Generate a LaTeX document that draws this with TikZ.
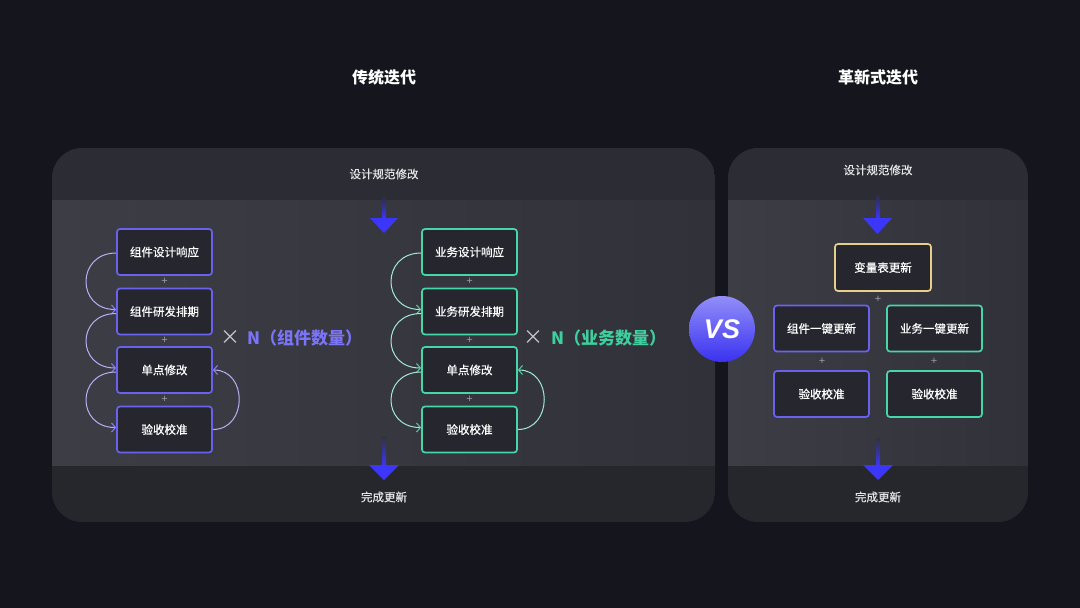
\documentclass[tikz,border=0pt]{standalone}
\usepackage{fontspec}
\setmainfont{Liberation Sans}
\newfontfamily\cjk{Noto Sans CJK SC}
\newfontfamily\cjkm[FakeBold=0.6]{Noto Sans CJK SC}
\newfontfamily\cjkl[FakeBold=0.3]{Noto Sans CJK SC}
\usetikzlibrary{arrows.meta}
\definecolor{bg}{HTML}{15161D}
\definecolor{ptop}{HTML}{2C2D34}
\definecolor{pbot}{HTML}{26272D}
\definecolor{midL}{HTML}{3D3E45}
\definecolor{midR}{HTML}{313239}
\definecolor{boxfill}{HTML}{25262E}
\definecolor{purp}{HTML}{6A62EE}
\definecolor{purpT}{HTML}{7C74F7}
\definecolor{grn}{HTML}{46D6A8}
\definecolor{grnT}{HTML}{3FCF9F}
\definecolor{gold}{HTML}{E6CF8A}
\definecolor{ablue}{HTML}{3B36FA}
\definecolor{plusc}{HTML}{9A9BA2}
\definecolor{xgray}{HTML}{C8C8CC}
\definecolor{txt}{HTML}{E6E6E8}
\definecolor{vsTop}{HTML}{928EF8}
\definecolor{vsBot}{HTML}{3A32F0}
\begin{document}
\begin{tikzpicture}[x=1pt,y=1pt,
  box/.style={draw, line width=1.7pt, rounded corners=3pt, fill=boxfill,
    minimum width=95pt, minimum height=46pt, inner sep=0pt, text=white,
    font=\cjkm\fontsize{11.5}{13}\selectfont},
  pbox/.style={box, draw=purp},
  gbox/.style={box, draw=grn},
  ybox/.style={box, draw=gold},
  plus/.style={text=plusc, font=\fontsize{11}{11}\selectfont, inner sep=0pt},
  lbl/.style={text=txt, font=\cjkl\fontsize{11.5}{13}\selectfont, inner sep=0pt},
  ttl/.style={text=white, font=\cjk\bfseries\fontsize{16}{18}\selectfont, inner sep=0pt},
  ploop/.style={draw=purp!50!white, line width=1pt, -{Straight Barb[length=4pt,width=9pt,color=purp!80!white]}},
  gloop/.style={draw=grn!50!white, line width=1pt, -{Straight Barb[length=4pt,width=9pt,color=grn]}},
  ahead/.style={fill=ablue},
]
\useasboundingbox (0,0) rectangle (1080,-608);
\fill[bg] (0,0) rectangle (1080,-608);

% titles
\node[ttl] (t1) at (384,-77) {传统迭代};
\node[ttl] (t2) at (878,-77) {革新式迭代};

% left panel
\begin{scope}
\clip[rounded corners=30pt] (52,-148) rectangle (715,-522);
\fill[ptop] (52,-148) rectangle (715,-200);
\shade[left color=midL, right color=midR] (52,-200) rectangle (715,-466);
\fill[pbot] (52,-466) rectangle (715,-522);
\end{scope}
% right panel
\begin{scope}
\clip[rounded corners=30pt] (728,-148) rectangle (1028,-522);
\fill[ptop] (728,-148) rectangle (1028,-200);
\shade[left color=midL, right color=midR] (728,-200) rectangle (1028,-466);
\fill[pbot] (728,-466) rectangle (1028,-522);
\end{scope}

% left panel texts
\node[lbl] (ls) at (384,-174) {设计规范修改};
\node[lbl] (le) at (384,-497) {完成更新};
% left blue arrows
\shade[top color=ptop, bottom color=ablue] (382,-195) rectangle (386,-219);
\fill[ahead] (370,-218) -- (398,-218) -- (384,-233) -- cycle;
\shade[top color=midR, bottom color=ablue] (382,-436) rectangle (386,-466);
\fill[ahead] (369,-465) -- (399,-465) -- (384,-480) -- cycle;

% component boxes
\node[pbox] (c1) at (164.5,-252) {组件设计响应};
\node[pbox] (c2) at (164.5,-311.5) {组件研发排期};
\node[pbox] (c3) at (164.5,-370) {单点修改};
\node[pbox] (c4) at (164.5,-429.5) {验收校准};
\node[plus] at (164.5,-281.5) {+};
\node[plus] at (164.5,-340.5) {+};
\node[plus] at (164.5,-399.5) {+};
\draw[ploop] ([yshift=-1pt]c1.west) .. controls +(-40,0) and +(-40,0) .. ([yshift=2pt]c2.west);
\draw[ploop] ([yshift=-2pt]c2.west) .. controls +(-40,0) and +(-40,0) .. ([yshift=2pt]c3.west);
\draw[ploop] ([yshift=-2pt]c3.west) .. controls +(-40,0) and +(-40,0) .. ([yshift=2pt]c4.west);
\draw[ploop] (c4.east) .. controls +(35,0) and +(35,0) .. (c3.east);
\node[text=xgray, font=\cjk\fontsize{20}{20}\selectfont, inner sep=0pt] (x1) at (230.5,-338) {×};
\node[anchor=west, text=purpT, font=\cjk\bfseries\fontsize{17}{19}\selectfont, inner sep=0pt] (n1) at (247,-338) {N（组件数量）};

% business boxes
\node[gbox] (b1) at (469.5,-252) {业务设计响应};
\node[gbox] (b2) at (469.5,-311.5) {业务研发排期};
\node[gbox] (b3) at (469.5,-370) {单点修改};
\node[gbox] (b4) at (469.5,-429.5) {验收校准};
\node[plus] at (469.5,-281.5) {+};
\node[plus] at (469.5,-340.5) {+};
\node[plus] at (469.5,-399.5) {+};
\draw[gloop] ([yshift=-1pt]b1.west) .. controls +(-40,0) and +(-40,0) .. ([yshift=2pt]b2.west);
\draw[gloop] ([yshift=-2pt]b2.west) .. controls +(-40,0) and +(-40,0) .. ([yshift=2pt]b3.west);
\draw[gloop] ([yshift=-2pt]b3.west) .. controls +(-40,0) and +(-40,0) .. ([yshift=2pt]b4.west);
\draw[gloop] (b4.east) .. controls +(35,0) and +(35,0) .. (b3.east);
\node[text=xgray, font=\cjk\fontsize{20}{20}\selectfont, inner sep=0pt] (x2) at (533.5,-338) {×};
\node[anchor=west, text=grnT, font=\cjk\bfseries\fontsize{17}{19}\selectfont, inner sep=0pt] (n2) at (551,-338) {N（业务数量）};

% right panel texts
\node[lbl] (rs) at (878,-170) {设计规范修改};
\node[lbl] (re) at (878,-497) {完成更新};
\shade[top color=ptop, bottom color=ablue] (876,-193) rectangle (880,-219);
\fill[ahead] (863,-218) -- (892,-218) -- (877.5,-234) -- cycle;
\shade[top color=midR, bottom color=ablue] (876,-438) rectangle (880,-466);
\fill[ahead] (863,-465) -- (893,-465) -- (878,-480) -- cycle;

\node[ybox, minimum width=96pt, minimum height=47pt] (v) at (883,-267.5) {变量表更新};
\node[plus] at (878,-299) {+};
\node[pbox] (r1) at (821.5,-328.5) {组件一键更新};
\node[gbox] (r2) at (934.5,-328.5) {业务一键更新};
\node[plus] at (822,-361) {+};
\node[plus] at (934,-361) {+};
\node[pbox] (r3) at (821.5,-394) {验收校准};
\node[gbox] (r4) at (934.5,-394) {验收校准};

% VS
\node[circle, minimum size=66pt, inner sep=0pt, top color=vsTop, bottom color=vsBot, shading=axis] (vs) at (722,-329) {};
\node[text=white, font=\bfseries\itshape\fontsize{27}{27}\selectfont, inner sep=0pt] (vst) at (vs.center) {VS};
\end{tikzpicture}
\end{document}
